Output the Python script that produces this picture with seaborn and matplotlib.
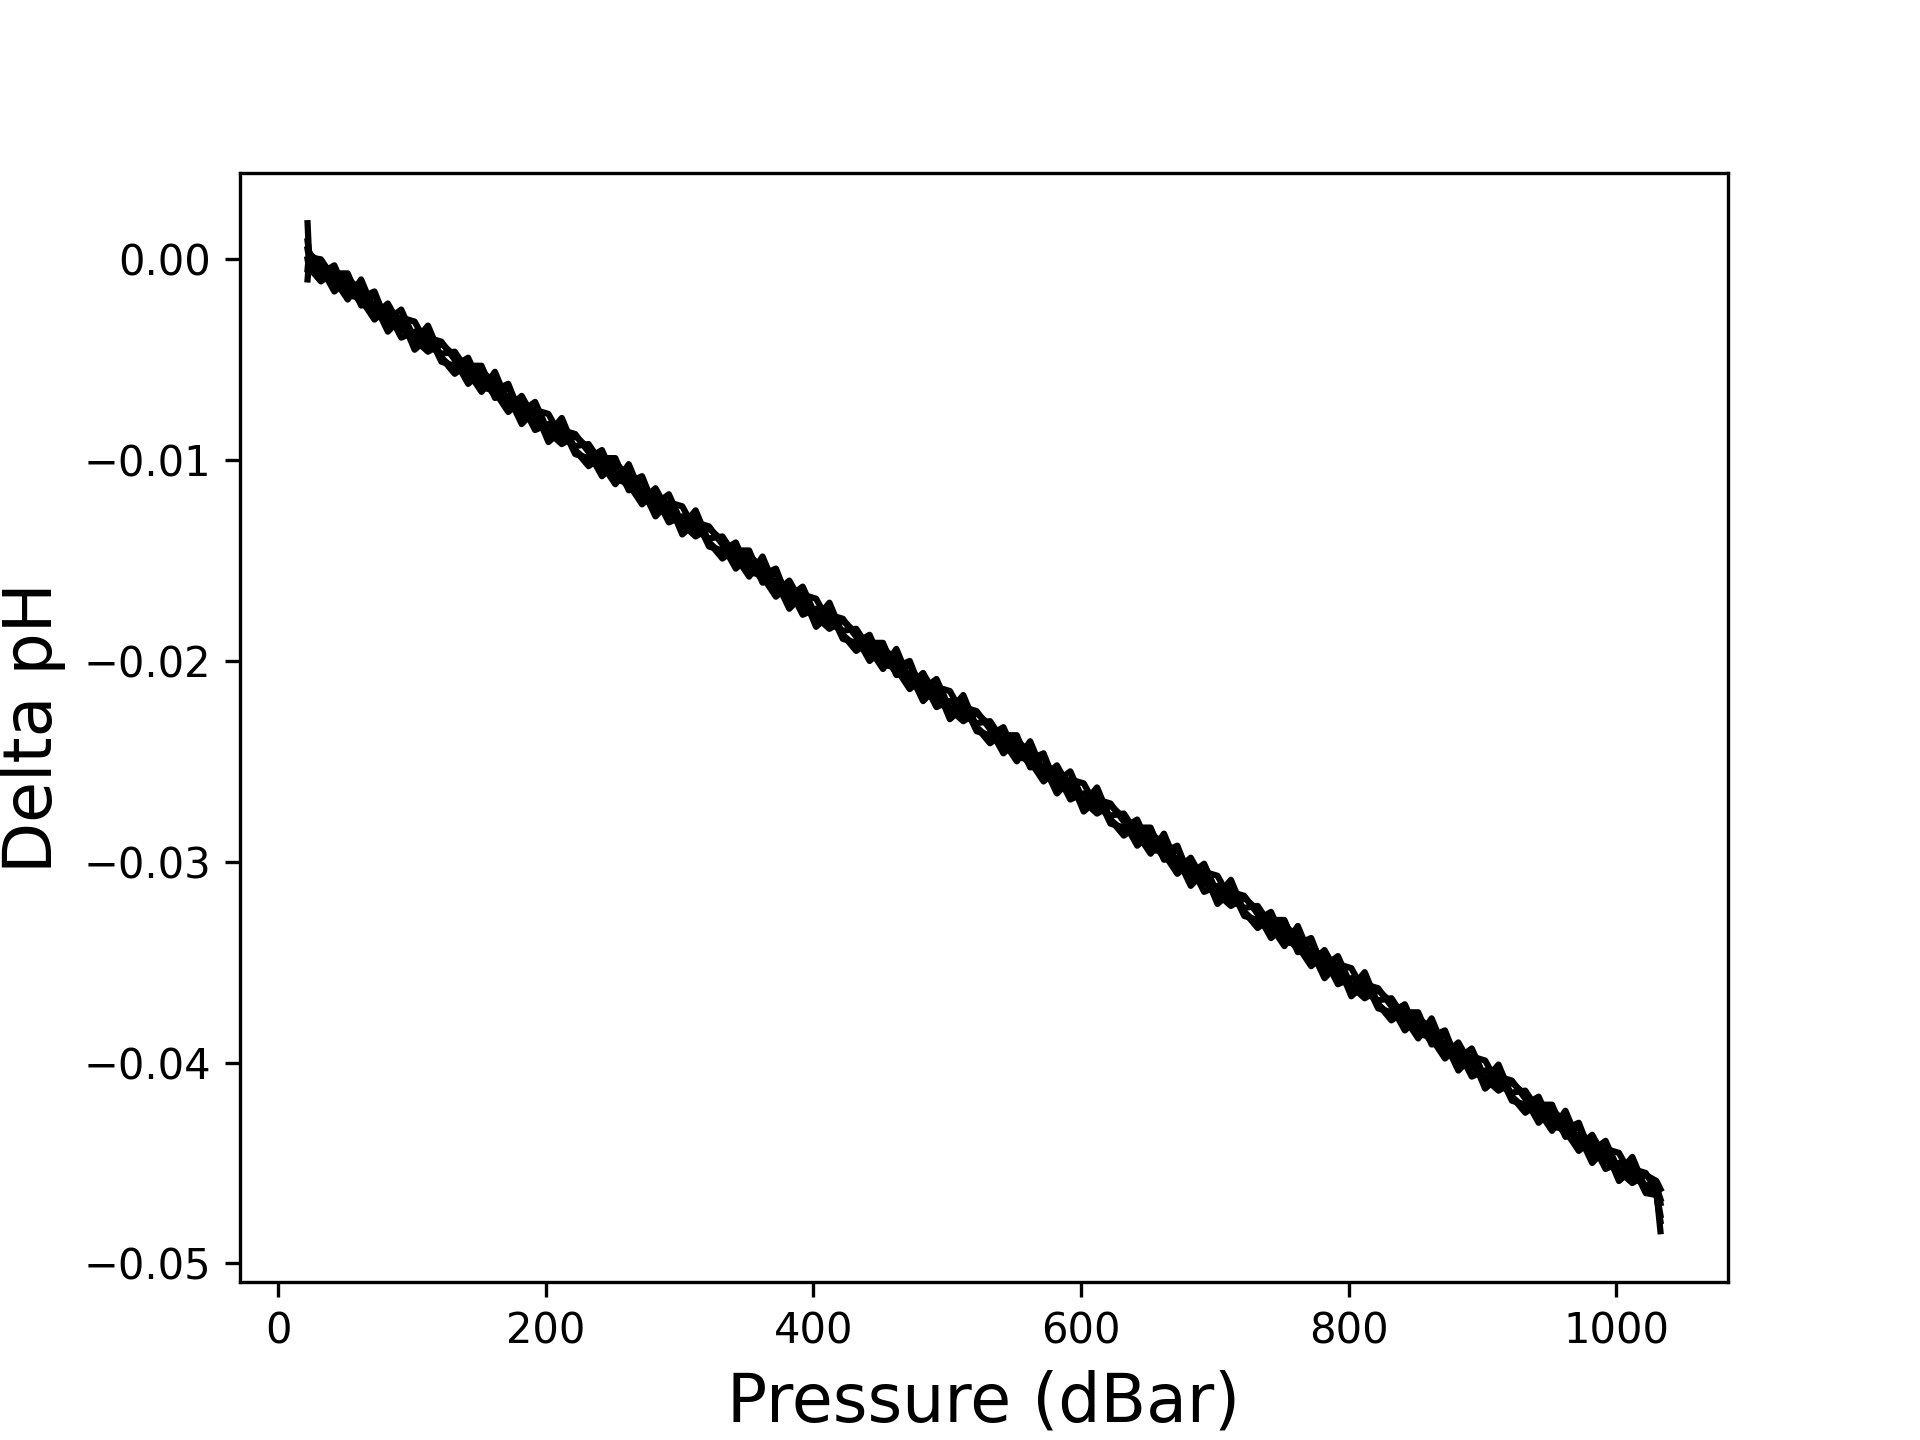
import pandas as pd
import matplotlib
matplotlib.use("Agg")
import matplotlib.pyplot as plt
import seaborn as sns

# shared pressure grid for all profiles (dBar)
pressure = [22, 23,
            32, 42, 52, 62, 72, 82, 92, 102, 112, 122,
            132, 142, 152, 162, 172, 182, 192, 202, 212, 222,
            232, 242, 252, 262, 272, 282, 292, 302, 312, 322,
            332, 342, 352, 362, 372, 382, 392, 402, 412, 422,
            432, 442, 452, 462, 472, 482, 492, 502, 512, 522,
            532, 542, 552, 562, 572, 582, 592, 602, 612, 622,
            632, 642, 652, 662, 672, 682, 692, 702, 712, 722,
            732, 742, 752, 762, 772, 782, 792, 802, 812, 822,
            832, 842, 852, 862, 872, 882, 892, 902, 912, 922,
            932, 942, 952, 962, 972, 982, 992, 1002, 1012, 1022,
            1030, 1033]

# delta pH per profile, in milli-pH
prof_a = [1.8, 0.3,
          -0.2, -1.4, -0.8, -2.0, -3.0, -2.4, -3.1, -4.3, -3.6, -4.9,
          -5.5, -5.3, -5.3, -6.9, -6.8, -8.2, -7.5, -7.7, -8.9, -9.3,
          -9.2, -10.2, -11.2, -10.2, -11.8, -11.8, -13.1, -12.8, -12.9, -14.3,
          -14.5, -14.1, -15.6, -15.7, -15.4, -17.1, -16.7, -18.3, -17.7, -17.9,
          -18.8, -20.0, -19.4, -19.9, -21.2, -20.6, -21.8, -22.5, -21.7, -23.3,
          -24.1, -23.6, -24.3, -25.2, -24.8, -26.0, -25.5, -27.0, -27.6, -27.2,
          -27.8, -29.0, -28.4, -29.6, -30.6, -30.0, -30.7, -31.9, -31.2, -32.5,
          -33.1, -32.9, -32.9, -34.5, -34.4, -35.8, -35.1, -35.3, -36.5, -36.9,
          -36.8, -37.8, -38.8, -37.8, -39.4, -39.4, -40.7, -40.4, -40.5, -41.9,
          -42.1, -41.7, -43.2, -43.3, -43.0, -44.7, -44.3, -45.9, -45.3, -45.5,
          -46.4, -48.4]
prof_b = [-1.0, -0.2,
          -0.9, -0.7, -0.7, -2.3, -2.2, -3.6, -2.9, -3.1, -4.3, -4.7,
          -4.6, -5.6, -6.6, -5.6, -7.2, -7.2, -8.5, -8.2, -8.3, -9.7,
          -9.9, -9.5, -11.0, -11.1, -10.8, -12.5, -12.1, -13.7, -13.1, -13.3,
          -14.2, -15.4, -14.8, -15.3, -16.6, -16.0, -17.2, -17.9, -17.1, -18.7,
          -19.5, -19.0, -19.7, -20.6, -20.2, -21.4, -20.9, -22.4, -23.0, -22.6,
          -23.2, -24.4, -23.8, -25.0, -26.0, -25.4, -26.1, -27.3, -26.6, -27.9,
          -28.5, -28.3, -28.3, -29.9, -29.8, -31.2, -30.5, -30.7, -31.9, -32.3,
          -32.2, -33.2, -34.2, -33.2, -34.8, -34.8, -36.1, -35.8, -35.9, -37.3,
          -37.5, -37.1, -38.6, -38.7, -38.4, -40.1, -39.7, -41.3, -40.7, -40.9,
          -41.8, -43.0, -42.4, -42.9, -44.2, -43.6, -44.8, -45.5, -44.7, -46.3,
          -46.1, -47.0]
prof_c = [0.5, 0.1,
          0.0, -1.0, -2.0, -1.0, -2.6, -2.6, -3.9, -3.6, -3.7, -5.1,
          -5.3, -4.9, -6.4, -6.5, -6.2, -7.9, -7.5, -9.1, -8.5, -8.7,
          -9.6, -10.8, -10.2, -10.7, -12.0, -11.4, -12.6, -13.3, -12.5, -14.1,
          -14.9, -14.4, -15.1, -16.0, -15.6, -16.8, -16.3, -17.8, -18.4, -18.0,
          -18.6, -19.8, -19.2, -20.4, -21.4, -20.8, -21.5, -22.7, -22.0, -23.3,
          -23.9, -23.7, -23.7, -25.3, -25.2, -26.6, -25.9, -26.1, -27.3, -27.7,
          -27.6, -28.6, -29.6, -28.6, -30.2, -30.2, -31.5, -31.2, -31.3, -32.7,
          -32.9, -32.5, -34.0, -34.1, -33.8, -35.5, -35.1, -36.7, -36.1, -36.3,
          -37.2, -38.4, -37.8, -38.3, -39.6, -39.0, -40.2, -40.9, -40.1, -41.7,
          -42.5, -42.0, -42.7, -43.6, -43.2, -44.4, -43.9, -45.4, -46.0, -45.6,
          -45.9, -46.3]
prof_d = [0.9, 0.4,
          -0.7, -0.3, -1.8, -1.9, -1.6, -3.3, -2.9, -4.5, -3.9, -4.1,
          -5.0, -6.2, -5.6, -6.1, -7.4, -6.8, -8.0, -8.7, -7.9, -9.5,
          -10.3, -9.8, -10.5, -11.4, -11.0, -12.2, -11.7, -13.2, -13.8, -13.4,
          -14.0, -15.2, -14.6, -15.8, -16.8, -16.2, -16.9, -18.1, -17.4, -18.7,
          -19.3, -19.1, -19.1, -20.7, -20.6, -22.0, -21.3, -21.5, -22.7, -23.1,
          -23.0, -24.0, -25.0, -24.0, -25.6, -25.6, -26.9, -26.6, -26.7, -28.1,
          -28.3, -27.9, -29.4, -29.5, -29.2, -30.9, -30.5, -32.1, -31.5, -31.7,
          -32.6, -33.8, -33.2, -33.7, -35.0, -34.4, -35.6, -36.3, -35.5, -37.1,
          -37.9, -37.4, -38.1, -39.0, -38.6, -39.8, -39.3, -40.8, -41.4, -41.0,
          -41.6, -42.8, -42.2, -43.4, -44.4, -43.8, -44.5, -45.7, -45.0, -46.3,
          -46.5, -47.6]
prof_e = [-0.5, 0.2,
          -0.4, -1.6, -1.0, -1.5, -2.8, -2.2, -3.4, -4.1, -3.3, -4.9,
          -5.7, -5.2, -5.9, -6.8, -6.4, -7.6, -7.1, -8.6, -9.2, -8.8,
          -9.4, -10.6, -10.0, -11.2, -12.2, -11.6, -12.3, -13.5, -12.8, -14.1,
          -14.7, -14.5, -14.5, -16.1, -16.0, -17.4, -16.7, -16.9, -18.1, -18.5,
          -18.4, -19.4, -20.4, -19.4, -21.0, -21.0, -22.3, -22.0, -22.1, -23.5,
          -23.7, -23.3, -24.8, -24.9, -24.6, -26.3, -25.9, -27.5, -26.9, -27.1,
          -28.0, -29.2, -28.6, -29.1, -30.4, -29.8, -31.0, -31.7, -30.9, -32.5,
          -33.3, -32.8, -33.5, -34.4, -34.0, -35.2, -34.7, -36.2, -36.8, -36.4,
          -37.0, -38.2, -37.6, -38.8, -39.8, -39.2, -39.9, -41.1, -40.4, -41.7,
          -42.3, -42.1, -42.1, -43.7, -43.6, -45.0, -44.3, -44.5, -45.7, -46.1,
          -46.2, -46.8]
prof_f = [0.0, -0.4,
          -1.1, -0.6, -1.3, -2.2, -1.8, -3.0, -2.5, -4.0, -4.6, -4.2,
          -4.8, -6.0, -5.4, -6.6, -7.6, -7.0, -7.7, -8.9, -8.2, -9.5,
          -10.1, -9.9, -9.9, -11.5, -11.4, -12.8, -12.1, -12.3, -13.5, -13.9,
          -13.8, -14.8, -15.8, -14.8, -16.4, -16.4, -17.7, -17.4, -17.5, -18.9,
          -19.1, -18.7, -20.2, -20.3, -20.0, -21.7, -21.3, -22.9, -22.3, -22.5,
          -23.4, -24.6, -24.0, -24.5, -25.8, -25.2, -26.4, -27.1, -26.3, -27.9,
          -28.7, -28.2, -28.9, -29.8, -29.4, -30.6, -30.1, -31.6, -32.2, -31.8,
          -32.4, -33.6, -33.0, -34.2, -35.2, -34.6, -35.3, -36.5, -35.8, -37.1,
          -37.7, -37.5, -37.5, -39.1, -39.0, -40.4, -39.7, -39.9, -41.1, -41.5,
          -41.4, -42.4, -43.4, -42.4, -44.0, -44.0, -45.3, -45.0, -45.1, -46.5,
          -46.6, -47.9]

profiles = {"a": prof_a, "b": prof_b, "c": prof_c,
            "d": prof_d, "e": prof_e, "f": prof_f}

rows = []
for name, vals in profiles.items():
    for p, v in zip(pressure, vals):
        rows.append({"profile": name, "pressure": p, "dph": v / 1000.0})
df = pd.DataFrame(rows)

fig, ax = plt.subplots(figsize=(6.4, 4.8), dpi=300)
sns.lineplot(data=df, x="pressure", y="dph", units="profile", estimator=None,
             color="black", sort=False, linewidth=1.5, ax=ax)
ax.set_xlabel("Pressure (dBar)", fontsize=16)
ax.set_ylabel("Delta pH", fontsize=16)
ax.set_xticks([0, 200, 400, 600, 800, 1000])
ax.set_yticks([0.0, -0.01, -0.02, -0.03, -0.04, -0.05])
ax.set_xlim(-28.5, 1083.5)
fig.savefig("out.png", dpi=300)
